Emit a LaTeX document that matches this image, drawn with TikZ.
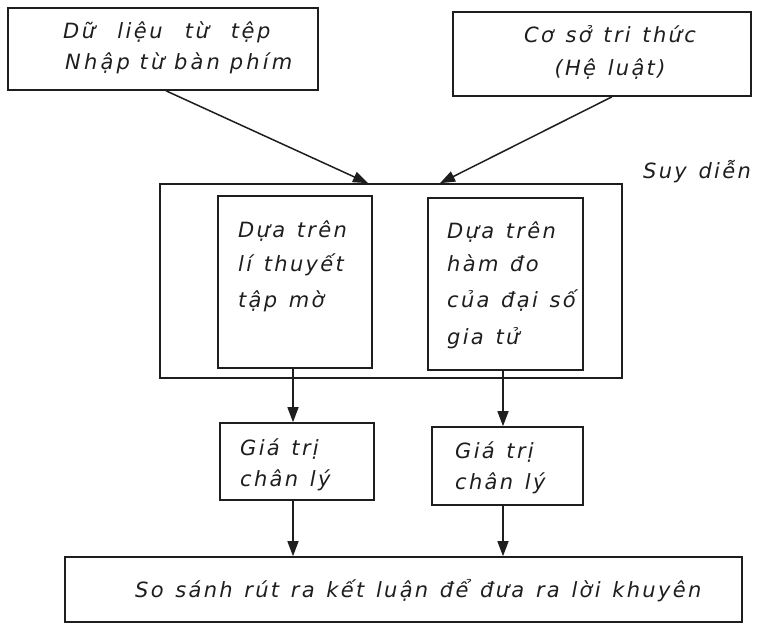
\documentclass[tikz,border=0pt]{standalone}
\usepackage{fontspec}
\setmainfont{DejaVu Sans}
\newfontfamily\hand[LetterSpace=11,WordSpace=1.3]{DejaVu Sans}
\newfontfamily\handmid[LetterSpace=15,WordSpace=1.0]{DejaVu Sans}
\newfontfamily\handgap[LetterSpace=12,WordSpace=2.4]{DejaVu Sans}
\usetikzlibrary{arrows.meta}
\definecolor{ink}{HTML}{1E1E1E}

\begin{document}
\begin{tikzpicture}[x=1pt,y=-1pt,
  box/.style={draw=ink, line width=1.6pt, rectangle, inner sep=0pt},
  txt/.style={font=\hand\itshape\fontsize{21}{24}\selectfont, text=ink, inner sep=0pt},
  midtxt/.style={txt, font=\handmid\itshape\fontsize{21}{24}\selectfont},
  gaptxt/.style={txt, font=\handgap\itshape\fontsize{21}{24}\selectfont},
  arr/.style={draw=ink, line width=1.5pt, -{Triangle[length=15pt,width=11pt]}}]
\useasboundingbox (0,0) rectangle (757,626);

% boxes
\node (dl) [box, minimum width=310pt, minimum height=82pt] at (163,49) {};
\node (cs) [box, minimum width=298pt, minimum height=84pt] at (602,54) {};
\node (sd) [box, minimum width=462pt, minimum height=194pt] at (391,281) {};
\node (fz) [box, minimum width=154pt, minimum height=172pt] at (295,282) {};
\node (hd) [box, minimum width=155pt, minimum height=172pt] at (505.5,284) {};
\node (g1) [box, minimum width=154pt, minimum height=77pt] at (297,461.5) {};
\node (g2) [box, minimum width=151pt, minimum height=78pt] at (507.5,466) {};
\node (kl) [box, minimum width=677pt, minimum height=65pt] at (403.5,589.5) {};

% texts
\node (dl1) [gaptxt, anchor=base west] at (63,38) {Dữ liệu từ tệp};
\node (dl2) [midtxt, anchor=base west] at (65,70) {Nhập từ bàn phím};
\node (cs1) [txt, anchor=base] at (610,43) {Cơ sở tri thức};
\node (cs2) [txt, anchor=base] at (610,75) {(Hệ luật)};
\node (sdl) [txt, anchor=base west] at (643,178) {Suy diễn};
\node (fz1) [txt, anchor=base west] at (238,237) {Dựa trên};
\node (fz2) [txt, anchor=base west] at (238,271) {lí thuyết};
\node (fz3) [txt, anchor=base west] at (238,307) {tập mờ};
\node (hd1) [txt, anchor=base west] at (447,238) {Dựa trên};
\node (hd2) [txt, anchor=base west] at (447,271) {hàm đo};
\node (hd3) [txt, anchor=base west] at (447,307) {của đại số};
\node (hd4) [txt, anchor=base west] at (447,344) {gia tử};
\node (g1a) [txt, anchor=base west] at (240,455) {Giá trị};
\node (g1b) [txt, anchor=base west] at (240,486) {chân lý};
\node (g2a) [txt, anchor=base west] at (455,458) {Giá trị};
\node (g2b) [txt, anchor=base west] at (455,489) {chân lý};
\node (kl1) [txt, anchor=base west] at (135,597) {So sánh rút ra kết luận để đưa ra lời khuyên};

% connectors
\draw[arr] (dl.south -| 166,0) -- (sd.north -| 368,0);
\draw[arr] (cs.south -| 612,0) -- (sd.north -| 440,0);
\draw[arr] (fz.south -| 293,0) -- (g1.north -| 293,0);
\draw[arr] (hd.south -| 503,0) -- (g2.north -| 503,0);
\draw[arr] (g1.south -| 293,0) -- (kl.north -| 293,0);
\draw[arr] (g2.south -| 503,0) -- (kl.north -| 503,0);
\end{tikzpicture}
\end{document}
